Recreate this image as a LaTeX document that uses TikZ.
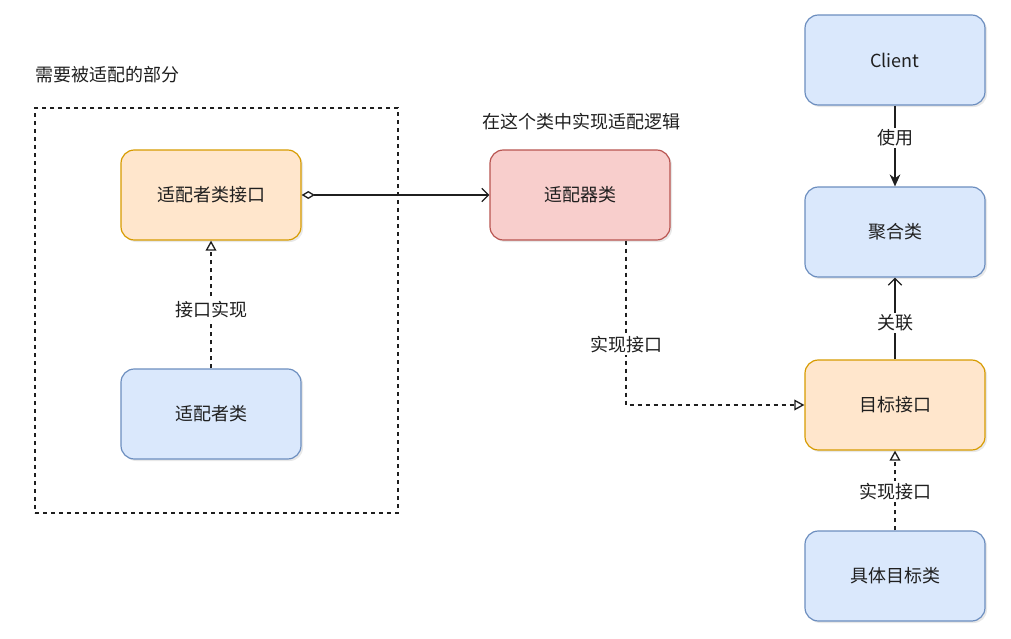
\documentclass[tikz,border=0pt]{standalone}
\usepackage{fontspec}
\setmainfont{Noto Sans CJK SC}
\usetikzlibrary{arrows.meta, shadows}
\definecolor{blueFill}{HTML}{DAE8FC}
\definecolor{blueLine}{HTML}{6C8EBF}
\definecolor{orangeFill}{HTML}{FFE6CC}
\definecolor{orangeLine}{HTML}{D79B00}
\definecolor{redFill}{HTML}{F8CECC}
\definecolor{redLine}{HTML}{B85450}
\definecolor{ink}{HTML}{1F1F1F}

\begin{document}
\begin{tikzpicture}[x=0.75pt, y=-0.75pt, font=\fontsize{13.5}{16}\selectfont, text=ink,
  box/.style={draw, rounded corners=10pt, line width=0.9pt, minimum width=135pt, minimum height=67.5pt,
    drop shadow={shadow xshift=1.5pt, shadow yshift=-1.5pt, opacity=0.18}},
  bluebox/.style={box, fill=blueFill, draw=blueLine},
  orangebox/.style={box, fill=orangeFill, draw=orangeLine},
  redbox/.style={box, fill=redFill, draw=redLine},
  dashline/.style={dash pattern=on 3pt off 3pt},
  link/.style={draw=ink, line width=1pt},
  lbl/.style={fill=white, inner sep=1.5pt},
  tri/.style={-{Triangle[open, fill=white, length=7.5pt, width=8pt]}},
  barb/.style={-{Straight Barb[length=5pt, width=10pt]}}]
  \useasboundingbox (0,0) rectangle (1011,639);

  % part to be adapted
  \node (part) [draw=ink, link, dashline, minimum width=272.25pt, minimum height=303.75pt] at (216.5,310.5) {};
  \node (partlbl) [anchor=west] at (31,75) {需要被适配的部分};
  \node (iface) [orangebox] at (211,195) {适配者类接口};
  \node (adaptee) [bluebox] at (211,414) {适配者类};

  % adapter
  \node (adapter) [redbox] at (580,195) {适配器类};
  \node (logic) at (581,122) {在这个类中实现适配逻辑};

  % client side
  \node (client) [bluebox] at (895,60) {Client};
  \node (agg) [bluebox] at (895,232) {聚合类};
  \node (target) [orangebox] at (895,405) {目标接口};
  \node (concrete) [bluebox] at (895,576) {具体目标类};
  \coordinate (adapterout) at ([xshift=34.5pt]adapter.south);

  \draw[link, dashline, tri] (adaptee) to node[lbl, pos=0.457] {接口实现} (iface);
  \draw[link, {Diamond[open, fill=white, length=10pt, width=6pt]}-{Straight Barb[length=5pt, width=10pt]}] (iface) to (adapter);
  \draw[link, dashline, tri] (adapterout) |- node[lbl, pos=0.315] {实现接口} (target);
  \draw[link, -{Stealth[length=9pt, width=8pt]}] (client) to node[lbl, pos=0.4] {使用} (agg);
  \draw[link, barb] (target) to node[lbl, pos=0.446] {关联} (agg);
  \draw[link, dashline, tri] (concrete) to node[lbl, pos=0.49] {实现接口} (target);
\end{tikzpicture}
\end{document}
